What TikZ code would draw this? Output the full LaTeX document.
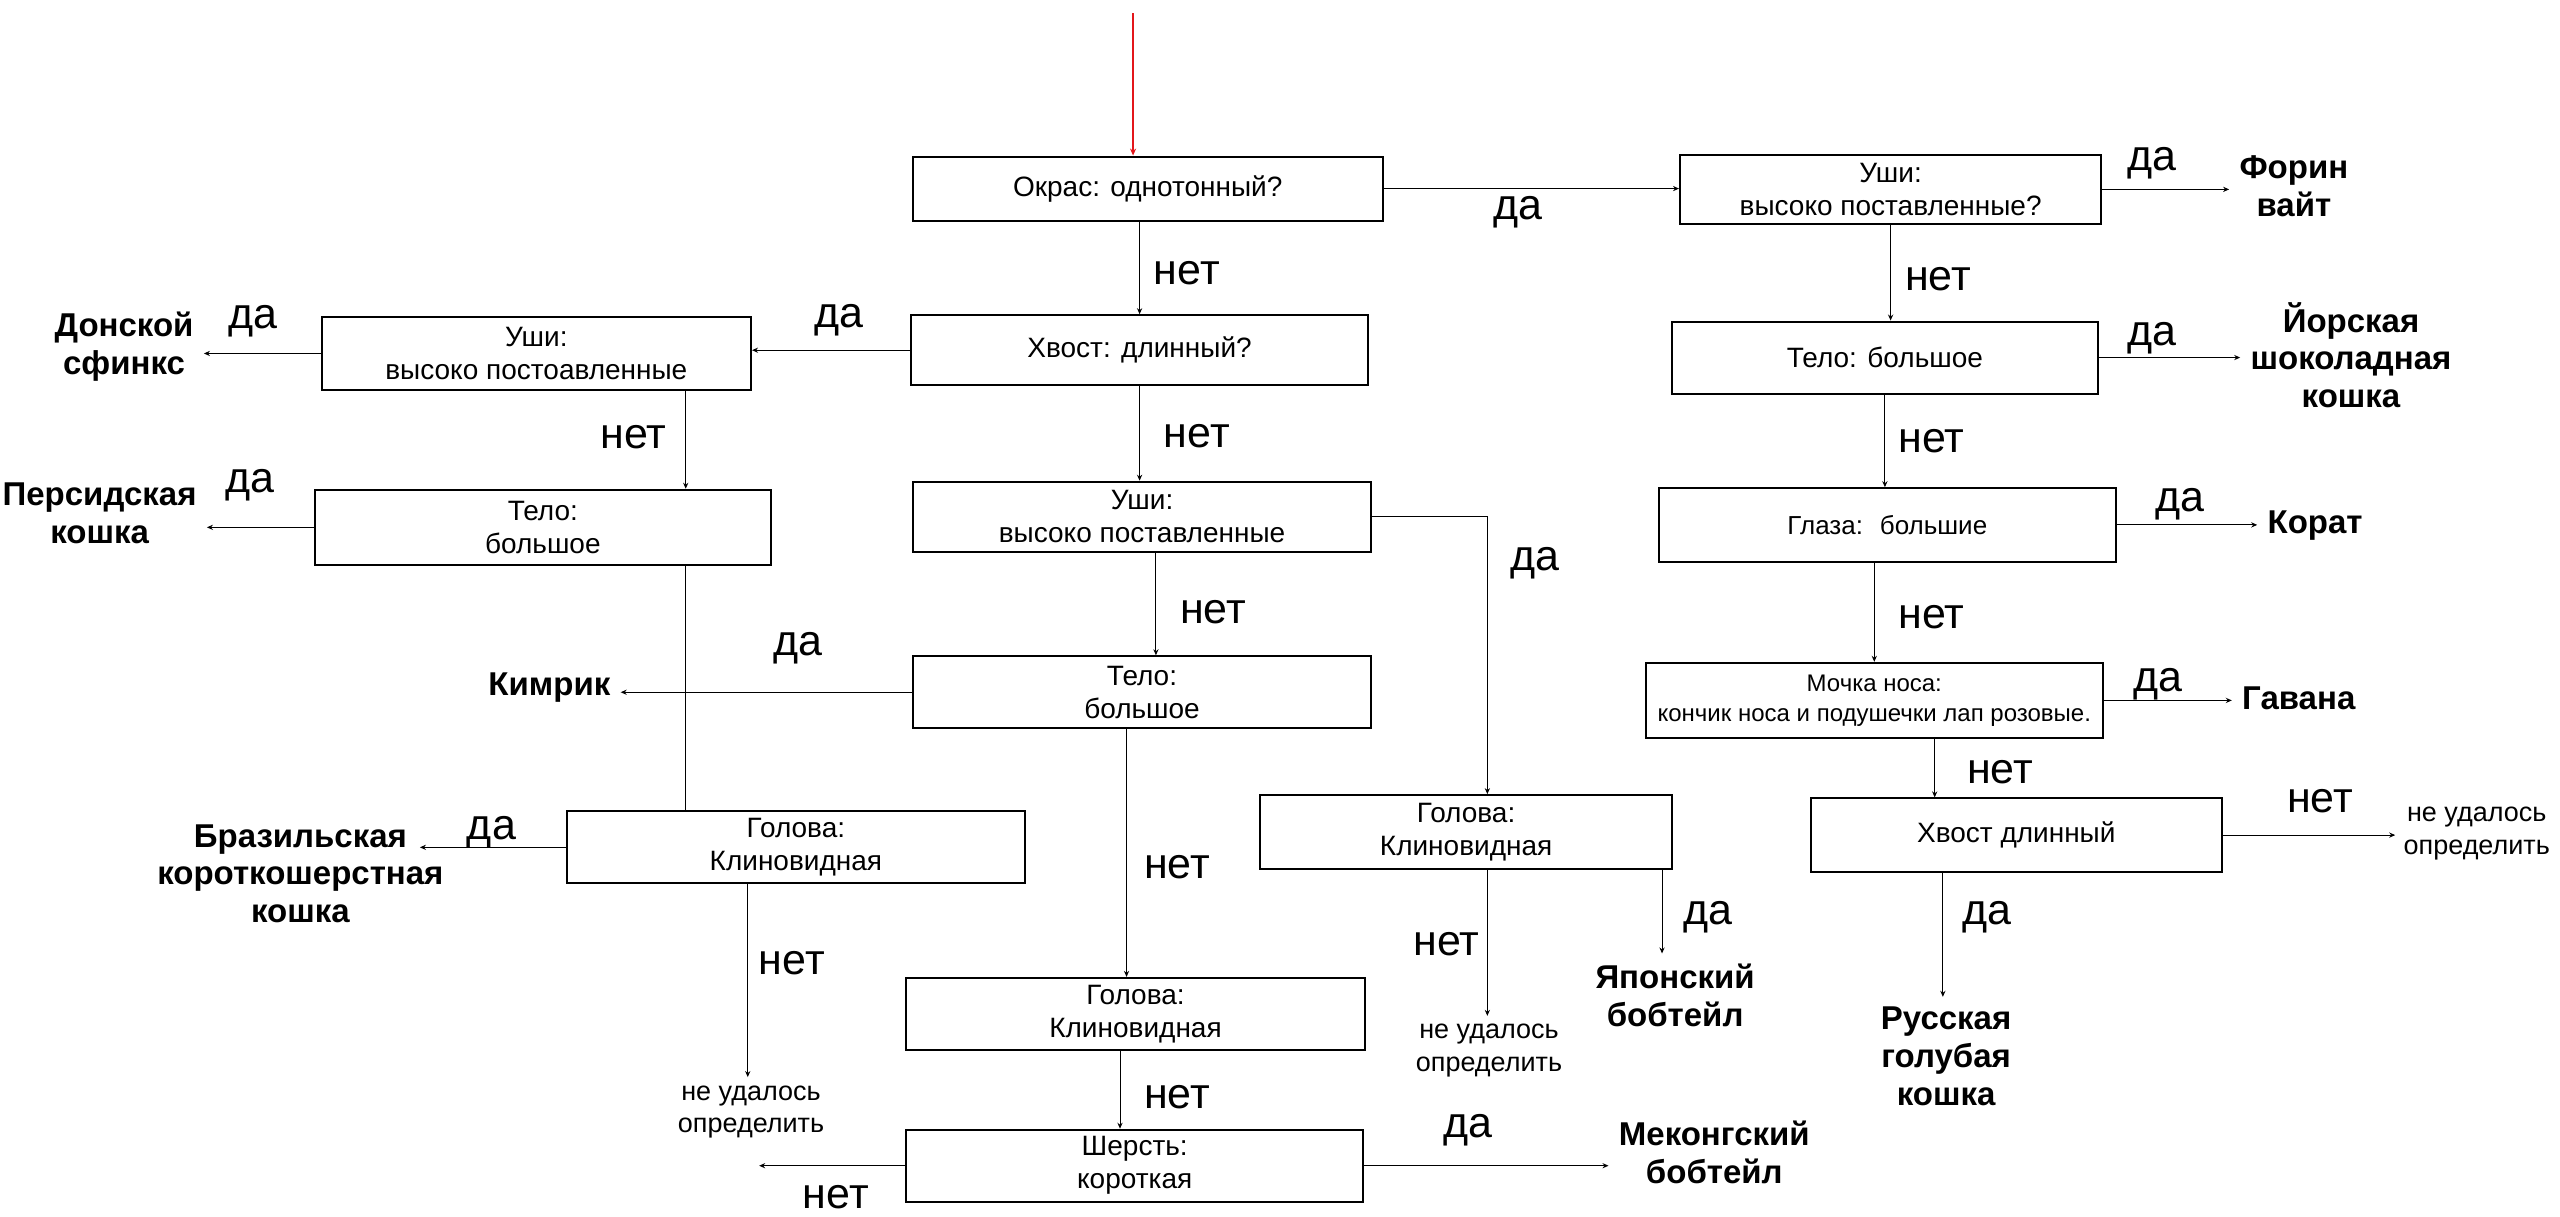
\documentclass[tikz,border=0pt]{standalone}
\usepackage{fontspec}
\setmainfont{Liberation Sans}
\usetikzlibrary{positioning, arrows.meta, calc}
\definecolor{StartRed}{HTML}{E3161B}
\tikzset{
  box/.style={draw, line width=1pt, align=center, font=\fontsize{14}{16.5}\selectfont, minimum height=36pt, inner sep=2pt},
  lbl/.style={font=\fontsize{21.5}{24}\selectfont, inner sep=1pt},
  res/.style={align=center, font=\fontsize{16.5}{18.8}\selectfont\bfseries, inner sep=5pt},
  undet/.style={align=center, font=\fontsize{13.5}{16.3}\selectfont, inner sep=4pt},
  arr/.style={-{Stealth[length=3pt,width=2.6pt]}, line width=0.5pt},
  conn/.style={line width=0.5pt},
  startarr/.style={-{Stealth[length=3.5pt,width=3pt]}, line width=1pt, draw=StartRed}
}

\begin{document}
\begin{tikzpicture}[x=0.8163pt, y=-0.8163pt]
  \useasboundingbox (0,0) rectangle (1568,745);

  % question boxes, right branch
  \node[box,minimum width=235pt,minimum height=32pt] (okras) at (703,115.5) {Окрас: однотонный?};
  \node[box,minimum width=210.6pt,minimum height=34.3pt] (ushiA) at (1158,116) {Уши:\\высоко поставленные?};
  \node[box,minimum width=213pt] (teloA) at (1154.5,219) {Тело: большое};
  \node[box,minimum width=228.6pt,minimum height=36.7pt,font=\fontsize{13}{16}\selectfont] (glaza) at (1156,321.5) {Глаза:~ большие};
  \node[box,minimum width=228.6pt,minimum height=37.6pt,font=\fontsize{12}{15}\selectfont] (mochka) at (1148,429) {Мочка носа:\\кончик носа и подушечки лап розовые.};
  \node[box,minimum width=205.7pt,minimum height=36.7pt] (hvostB) at (1235,511.5) {Хвост длинный};

  % question boxes, left and middle
  \node[box,minimum width=228.6pt,minimum height=35pt] (hvost) at (698,214.5) {Хвост: длинный?};
  \node[box,minimum width=214.7pt,minimum height=36.7pt] (ushiB) at (328.5,216.5) {Уши:\\высоко постоавленные};
  \node[box,minimum width=227.8pt,minimum height=37.6pt] (teloB) at (332.5,323) {Тело:\\большое};
  \node[box,minimum width=229.4pt] (golovaA) at (487.5,519) {Голова:\\Клиновидная};
  \node[box,minimum width=229.4pt,minimum height=35pt] (ushiC) at (699.5,316.5) {Уши:\\высоко поставленные};
  \node[box,minimum width=229.4pt] (teloC) at (699.5,424) {Тело:\\большое};
  \node[box,minimum width=205.7pt,minimum height=36.7pt] (golovaB) at (898,509.5) {Голова:\\Клиновидная};
  \node[box,minimum width=229.4pt] (golovaC) at (695.5,621) {Голова:\\Клиновидная};
  \node[box,minimum width=228.6pt] (sherst) at (695,714) {Шерсть:\\короткая};

  % breeds
  \node[res] (forin) at (1405,114) {Форин\\вайт};
  \node[res] (yorsk) at (1440,217.5) {Йорская\\шоколадная\\кошка};
  \node[res] (korat) at (1418,322) {Корат};
  \node[res] (havana) at (1408,428) {Гавана};
  \node[res] (russ) at (1192,647) {Русская\\голубая\\кошка};
  \node[res] (japan) at (1026,609.5) {Японский\\бобтейл};
  \node[res] (mekong) at (1050,706) {Меконгский\\бобтейл};
  \node[res] (kimrik) at (336.5,421) {Кимрик};
  \node[res] (donsk) at (76,212.5) {Донской\\сфинкс};
  \node[res] (pers) at (61,314.5) {Персидская\\кошка};
  \node[res,inner xsep=-12pt] (braz) at (184,535) {Бразильская\\короткошерстная\\кошка};
  \node[undet] (undA) at (1517,510.5) {не удалось\\определить};
  \node[undet] (undB) at (460,681) {не удалось\\определить};
  \node[undet] (undC) at (912,643.5) {не удалось\\определить};

  \coordinate (begin) at (694,8);
  \coordinate (lost) at (465,717);

  % answers
  \node[lbl] (a1) at (727,167) {нет};
  \node[lbl] (a2) at (930,130) {да};
  \node[lbl] (a3) at (1318,100) {да};
  \node[lbl] (a4) at (1187,171) {нет};
  \node[lbl] (a5) at (1318,207) {да};
  \node[lbl] (a6) at (1183,270) {нет};
  \node[lbl] (a7) at (1335,309) {да};
  \node[lbl] (a8) at (1183,378) {нет};
  \node[lbl] (a9) at (1322,419) {да};
  \node[lbl] (a10) at (1225,473) {нет};
  \node[lbl] (a11) at (1421,491) {нет};
  \node[lbl] (a12) at (1217,562) {да};
  \node[lbl] (a13) at (514,196) {да};
  \node[lbl] (a14) at (155,197) {да};
  \node[lbl] (a15) at (388,268) {нет};
  \node[lbl] (a16) at (153,297) {да};
  \node[lbl] (a17) at (301,510) {да};
  \node[lbl] (a18) at (485,590) {нет};
  \node[lbl] (a19) at (733,267) {нет};
  \node[lbl] (a20) at (940,345) {да};
  \node[lbl] (a21) at (743,375) {нет};
  \node[lbl] (a22) at (489,397) {да};
  \node[lbl] (a23) at (721,531) {нет};
  \node[lbl] (a24) at (886,578) {нет};
  \node[lbl] (a25) at (1046,562) {да};
  \node[lbl] (a26) at (721,672) {нет};
  \node[lbl] (a27) at (512,733) {нет};
  \node[lbl] (a28) at (899,692) {да};

  % connectors
  \draw[startarr] (begin) -- (begin |- okras.north);
  \draw[arr] (okras.east) -- (okras.east -| ushiA.west);
  \draw[arr] (ushiA.east) -- (ushiA.east -| forin.west);
  \draw[arr] (ushiA.south) -- (ushiA.south |- teloA.north);
  \draw[arr] (teloA.east) -- (teloA.east -| yorsk.west);
  \draw[arr] (teloA.south) -- (teloA.south |- glaza.north);
  \draw[arr] (glaza.east) -- (glaza.east -| korat.west);
  \draw[arr] (glaza.south -| mochka.north) -- (mochka.north);
  \draw[arr] (mochka.east) -- (mochka.east -| havana.west);
  \draw[arr] (1185,0 |- mochka.south) -- (1185,0 |- hvostB.north);
  \draw[arr] (hvostB.east) -- (hvostB.east -| undA.west);
  \draw[arr] (1190,0 |- hvostB.south) -- (1190,0 |- russ.north);

  \draw[arr] (okras.south -| hvost.north) -- (hvost.north);
  \draw[arr] (hvost.west) -- (hvost.west -| ushiB.east);
  \draw[arr] (ushiB.west) -- (ushiB.west -| donsk.east);
  \draw[arr] (420,0 |- ushiB.south) -- (420,0 |- teloB.north);
  \draw[arr] (teloB.west) -- (teloB.west -| pers.east);
  \draw[conn] (420,0 |- teloB.south) -- (420,0 |- golovaA.north);
  \draw[arr] (golovaA.west) -- (golovaA.west -| braz.east);
  \draw[arr] (458,0 |- golovaA.south) -- (458,0 |- undB.north);

  \draw[arr] (hvost.south) -- (hvost.south |- ushiC.north);
  \draw[arr] (ushiC.east) -| (911,0 |- golovaB.north);
  \draw[arr] (708,0 |- ushiC.south) -- (708,0 |- teloC.north);
  \draw[arr] (teloC.west) -- (teloC.west -| kimrik.east);
  \draw[arr] (690,0 |- teloC.south) -- (690,0 |- golovaC.north);
  \draw[arr] (911,0 |- golovaB.south) -- (911,0 |- undC.north);
  \draw[arr] (1018,0 |- golovaB.south) -- (1018,0 |- japan.north);
  \draw[arr] (686,0 |- golovaC.south) -- (686,0 |- sherst.north);
  \draw[arr] (sherst.west) -- (sherst.west -| lost);
  \draw[arr] (sherst.east) -- (sherst.east -| mekong.west);
\end{tikzpicture}
\end{document}
